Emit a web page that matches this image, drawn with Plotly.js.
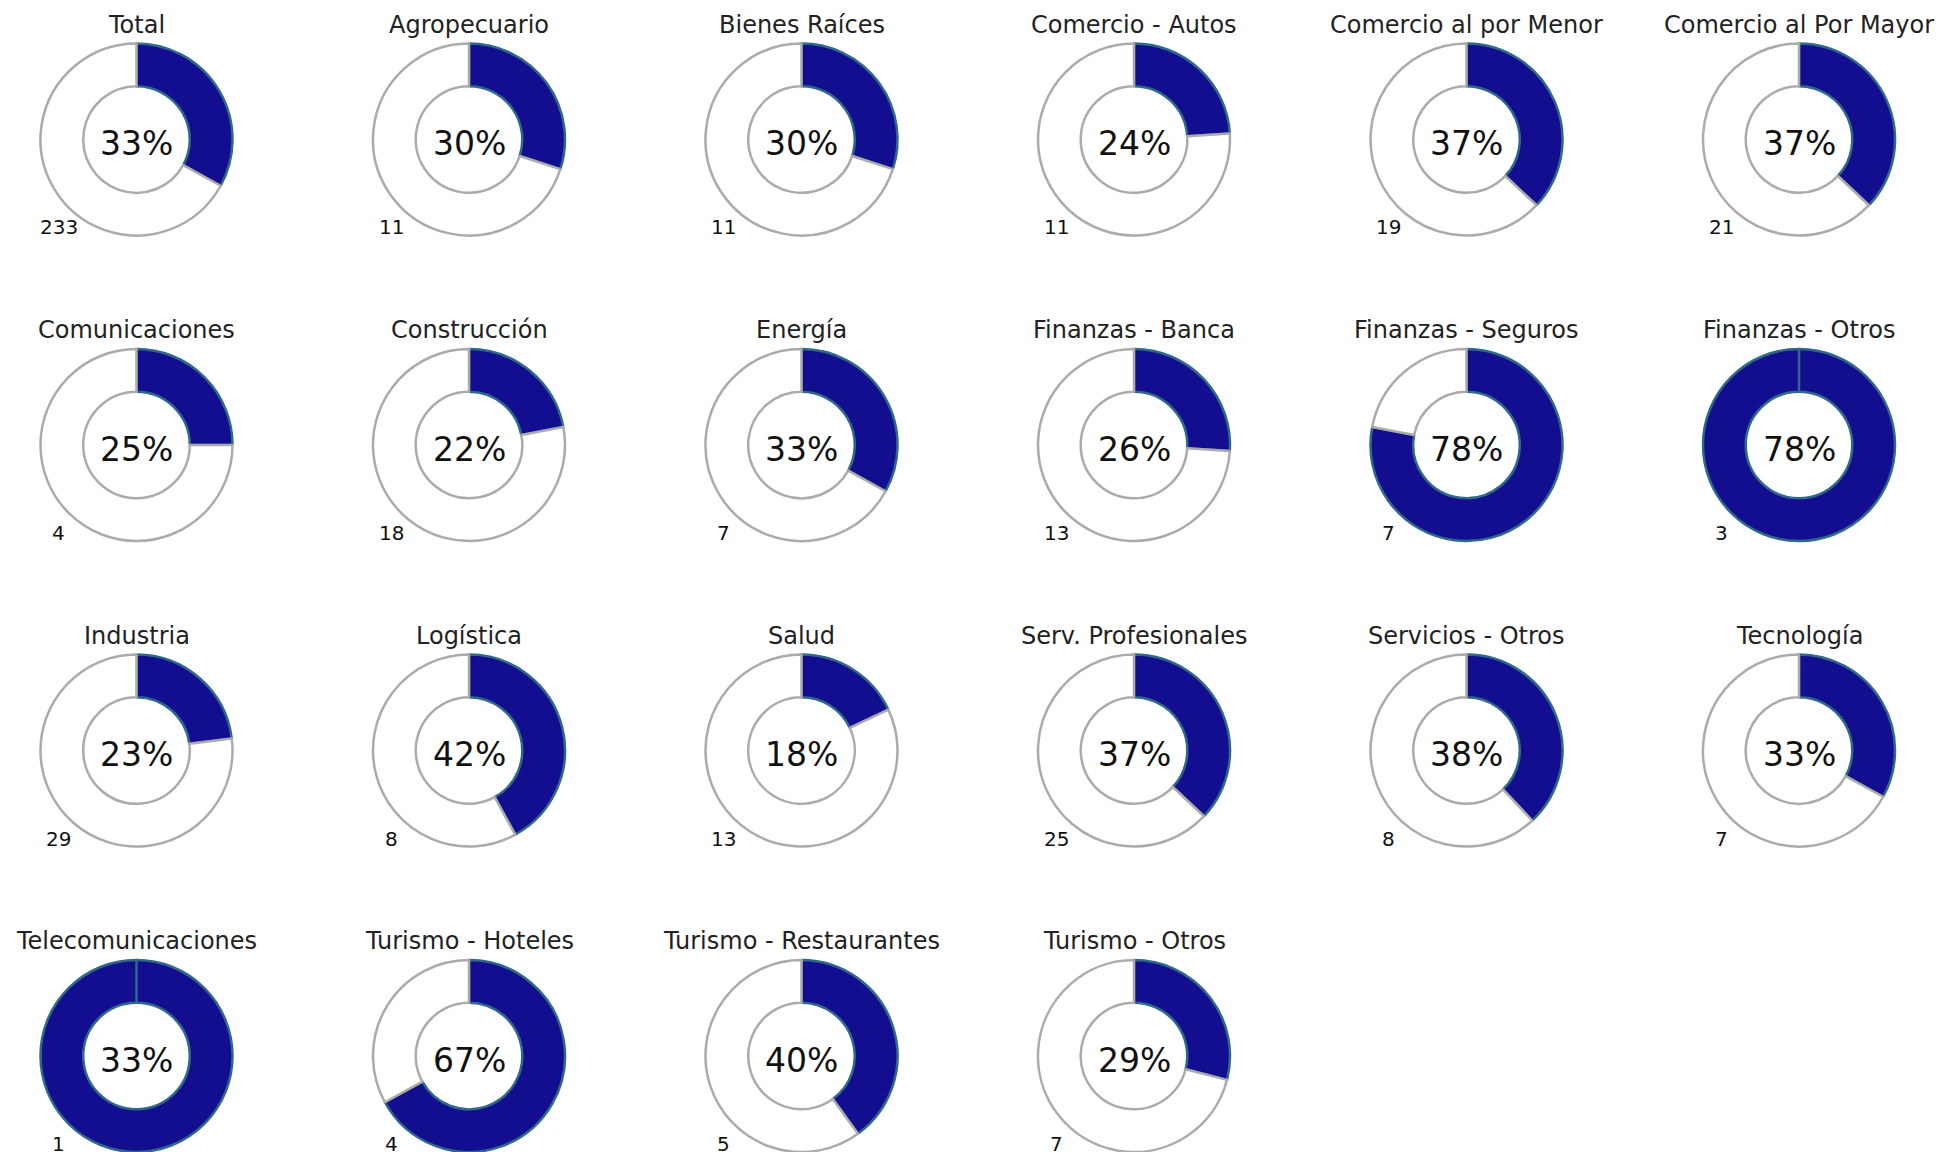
<!DOCTYPE html>
<html>
<head>
<meta charset="utf-8">
<script src="https://cdn.plot.ly/plotly-3.0.1.min.js"></script>
<style>html,body{margin:0;padding:0;background:#fff;}#chart{width:1947px;height:1152px;}</style>
</head>
<body>
<div id="chart"></div>
<script>
const categories = ["Total","Agropecuario","Bienes Raíces","Comercio - Autos","Comercio al por Menor","Comercio al Por Mayor",
  "Comunicaciones","Construcción","Energía","Finanzas - Banca","Finanzas - Seguros","Finanzas - Otros",
  "Industria","Logística","Salud","Serv. Profesionales","Servicios - Otros","Tecnología",
  "Telecomunicaciones","Turismo - Hoteles","Turismo - Restaurantes","Turismo - Otros"];
const centerPct = [33,30,30,24,37,37, 25,22,33,26,78,78, 23,42,18,37,38,33, 33,67,40,29];
const sliceShare = [33,30,30,24,37,37, 25,22,33,26,78,100, 23,42,18,37,38,33, 100,67,40,29];
const counts = [233,11,11,11,19,21, 4,18,7,13,7,3, 29,8,13,25,8,7, 1,4,5,7];

const W = 1947, H = 1152;
const NCOL = 6;
const X0 = 136.5, DX = 332.5, Y0 = 139.5, DY = 305.5, R = 96;
const BLUE = '#130d8f', BLUE_LINE = '#2f6889', GRAY_LINE = '#ababab';
const FONT = 'DejaVu Sans, Verdana, sans-serif';

const traces = [], annotations = [];
categories.forEach((cat, i) => {
  const cx = X0 + (i % NCOL) * DX;
  const cy = Y0 + Math.floor(i / NCOL) * DY;
  const rest = 100 - sliceShare[i];
  traces.push({
    type: 'pie',
    values: [sliceShare[i], rest],
    labels: ['Sí', 'No'],
    sort: false,
    direction: 'clockwise',
    rotation: 0,
    hole: 0.555,
    textinfo: 'none',
    hoverinfo: 'label+percent',
    showlegend: false,
    marker: {
      colors: [BLUE, '#ffffff'],
      line: {color: [BLUE_LINE, rest === 0 ? BLUE_LINE : GRAY_LINE], width: 2.5}
    },
    domain: {
      x: [(cx - R) / W, (cx + R) / W],
      y: [1 - (cy + R) / H, 1 - (cy - R) / H]
    }
  });
  annotations.push({
    xref: 'paper', yref: 'paper', x: cx / W, y: 1 - (cy - 115) / H,
    text: cat, showarrow: false, xanchor: 'center', yanchor: 'middle',
    font: {family: FONT, size: 24, color: '#222'}
  });
  annotations.push({
    xref: 'paper', yref: 'paper', x: cx / W, y: 1 - (cy + 4) / H,
    text: centerPct[i] + '%', showarrow: false, xanchor: 'center', yanchor: 'middle',
    font: {family: FONT, size: 33, color: '#111'}
  });
  annotations.push({
    xref: 'paper', yref: 'paper', x: (cx - 78) / W, y: 1 - (cy + 88) / H,
    text: String(counts[i]), showarrow: false, xanchor: 'center', yanchor: 'middle',
    font: {family: FONT, size: 20, color: '#111'}
  });
});

Plotly.newPlot('chart', traces, {
  width: W, height: H,
  margin: {l: 0, r: 0, t: 0, b: 0},
  paper_bgcolor: '#fff',
  annotations: annotations
}, {displayModeBar: false, staticPlot: false});
</script>
</body>
</html>
